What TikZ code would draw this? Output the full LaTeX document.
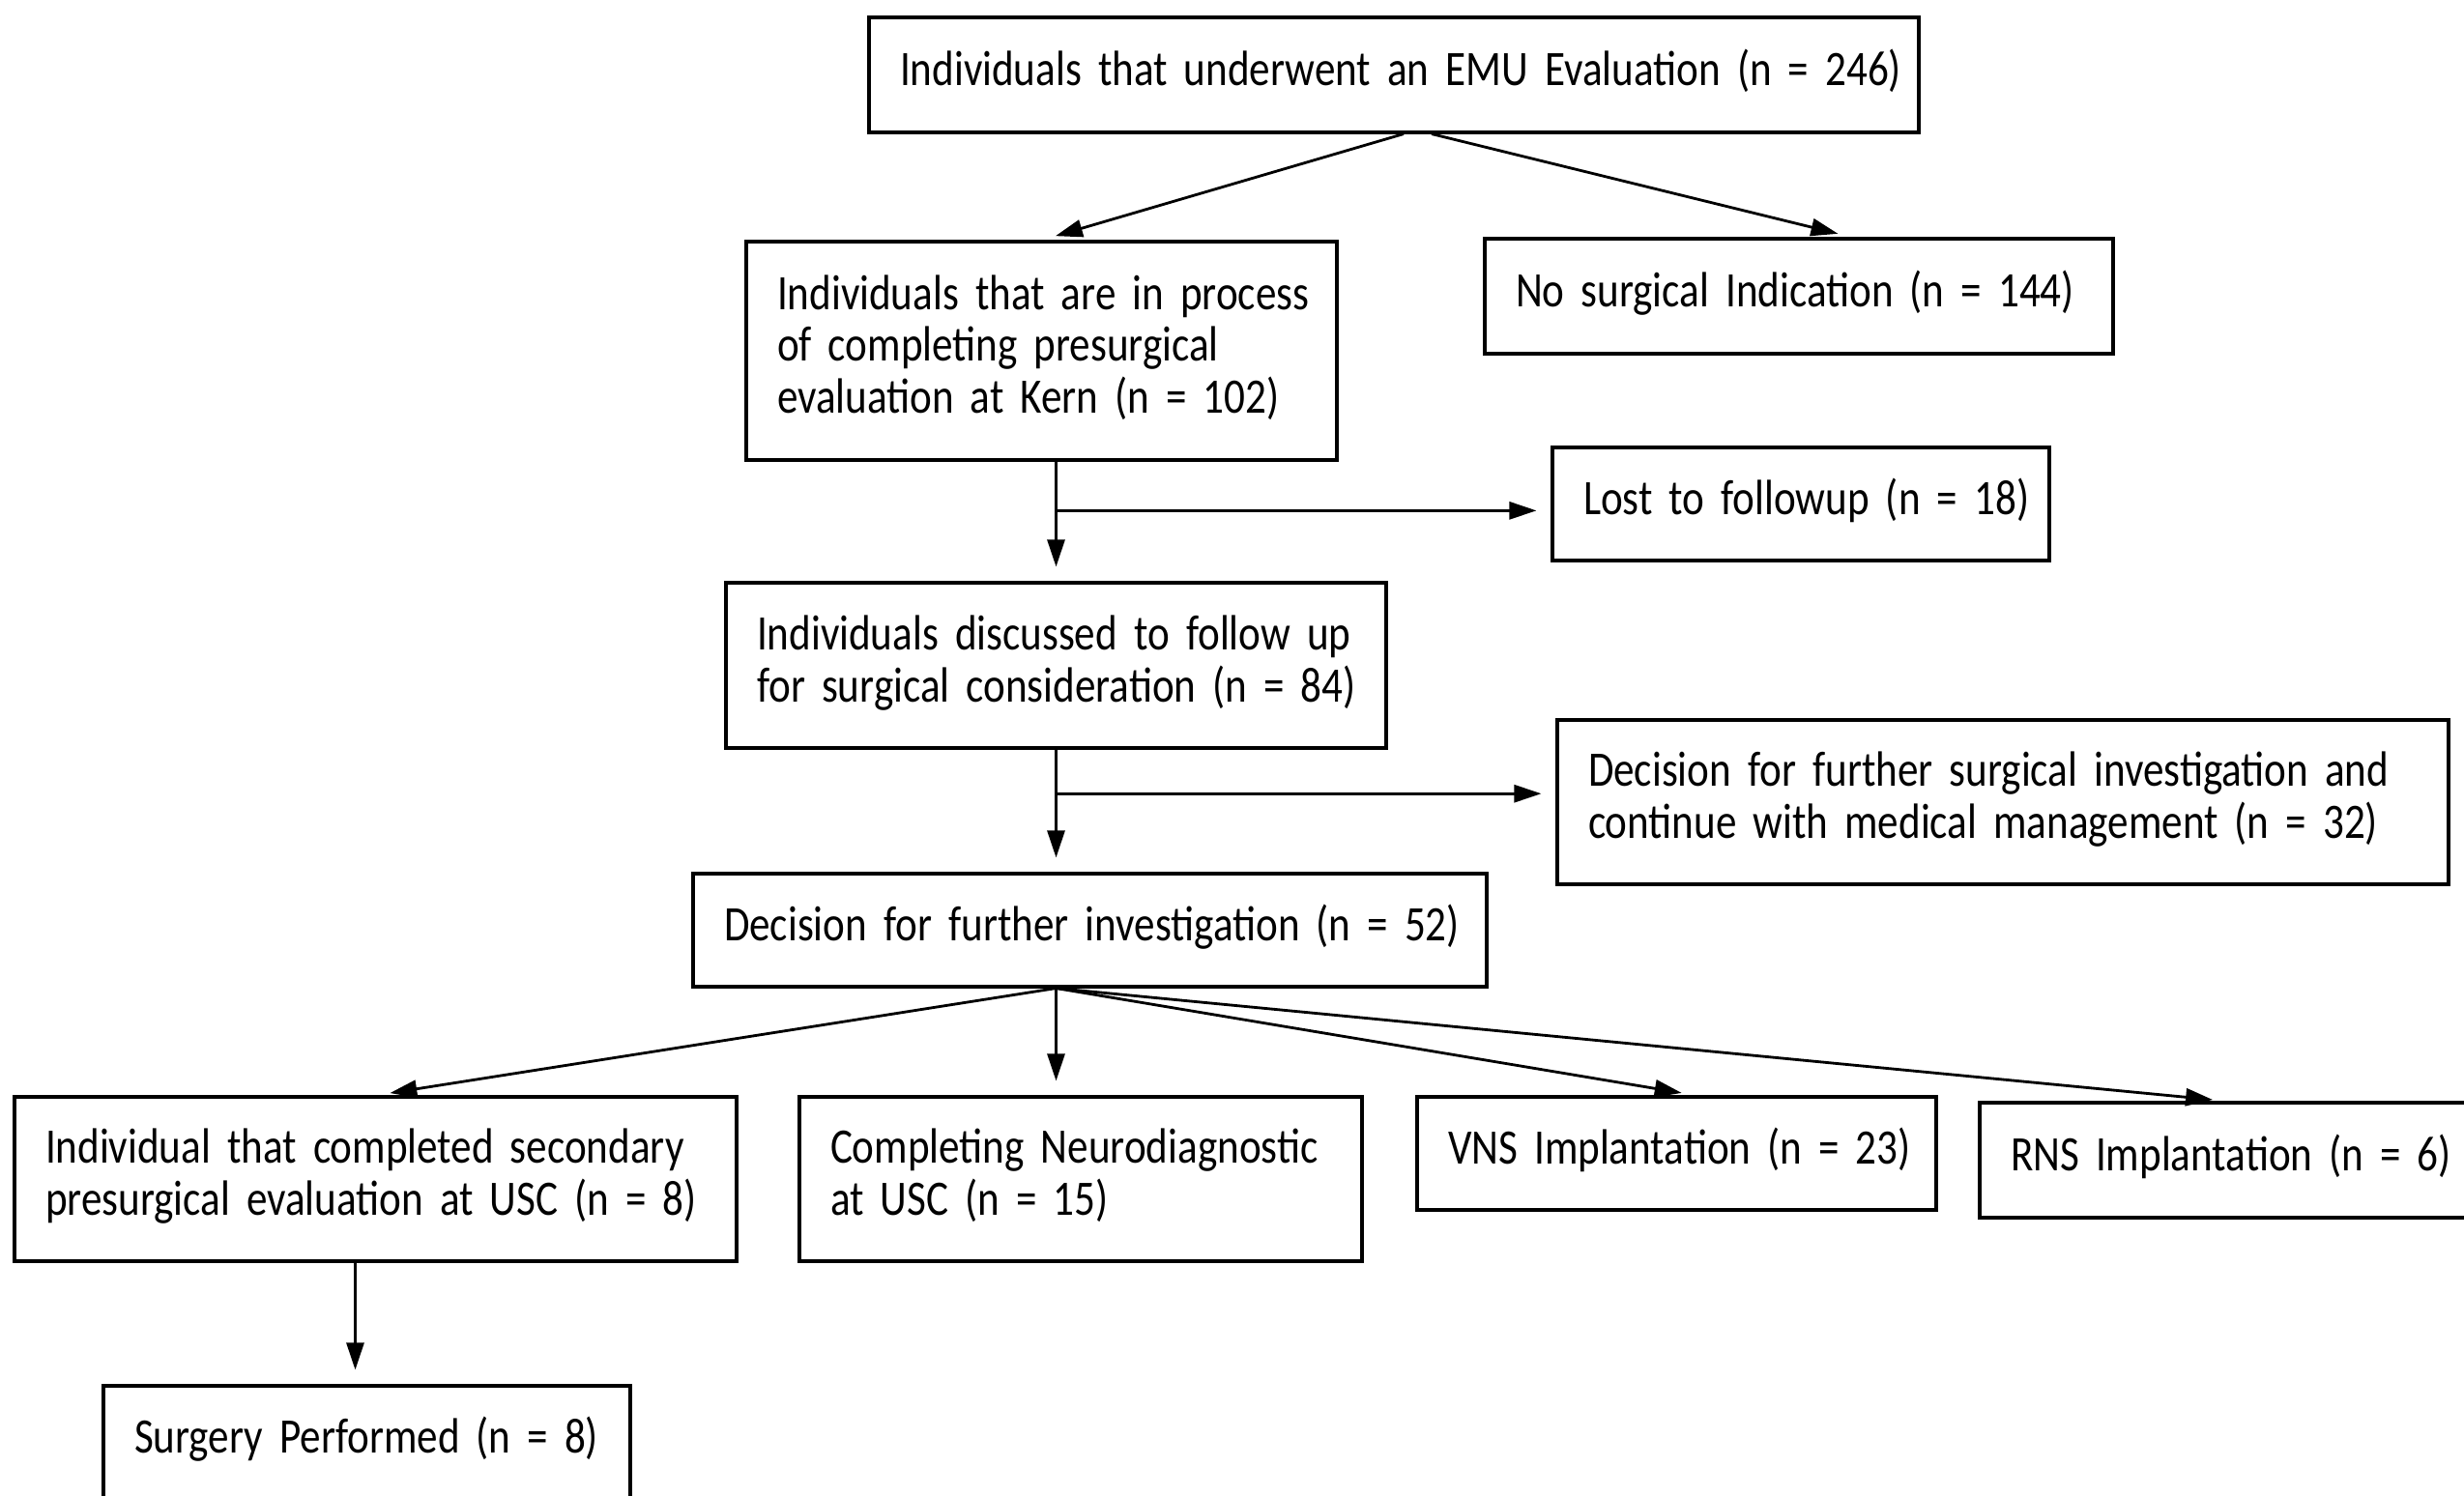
\documentclass[tikz,border=0pt]{standalone}
\usepackage{fontspec}
\setmainfont{Carlito}[FakeStretch=0.84, WordSpace=0.65]
\usepackage{tikz}
\usetikzlibrary{positioning,arrows.meta,calc}
\newcommand{\rows}[1]{\begin{tabular}{@{}l@{}}#1\end{tabular}}

\begin{document}
\begin{tikzpicture}[
    box/.style={draw, line width=0.9pt, inner xsep=0.32cm, inner ysep=0pt, align=left, font=\fontsize{14.6}{15.25}\selectfont},
    arr/.style={-{Triangle[length=0.28cm,width=0.18cm]}, line width=0.8pt, shorten >=0.15cm}
  ]
            \useasboundingbox (0,0) rectangle (25.49,-15.48);
            \clip (0,0) rectangle (25.49,-15.48);

            \node[box, text width=10.22cm, minimum height=1.19cm] (emu) at (14.42,-0.775) {\rows{Individuals that underwent an EMU Evaluation (n = 246)}};
            \node[box, text width=5.47cm, minimum height=2.26cm] (proc) at (10.775,-3.63) {\rows{Individuals that are in process\\ of completing presurgical\\ evaluation at Kern (n = 102)}};
            \node[box, text width=5.86cm, minimum height=1.19cm] (nosurg) at (18.61,-3.065) {\rows{No surgical Indication (n = 144)}};
            \node[box, text width=4.50cm, minimum height=1.17cm] (lost) at (18.63,-5.215) {\rows{Lost to followup (n = 18)}};
            \node[box, text width=6.19cm, minimum height=1.71cm] (disc) at (10.925,-6.885) {\rows{Individuals discussed to follow up\\ for surgical consideration (n = 84)}};
            \node[box, text width=8.58cm, minimum height=1.70cm] (cont) at (20.72,-8.30) {\rows{Decision for further surgical investigation and\\ continue with medical management (n = 32)}};
            \node[box, text width=7.57cm, minimum height=1.17cm] (inv) at (11.275,-9.625) {\rows{Decision for further investigation (n = 52)}};
            \node[box, text width=6.83cm, minimum height=1.70cm] (sec) at (3.885,-12.20) {\rows{Individual that completed secondary\\ presurgical evaluation at USC (n = 8)}};
            \node[box, text width=5.18cm, minimum height=1.70cm] (neuro) at (11.18,-12.20) {\rows{Completing Neurodiagnostic\\ at USC (n = 15)}};
            \node[box, text width=4.73cm, minimum height=1.17cm] (vns) at (17.345,-11.935) {\rows{VNS Implantation (n = 23)}};
            \node[box, text width=4.48cm, minimum height=1.19cm] (rns) at (23.04,-12.005) {\rows{RNS Implantation (n = 6)}};
            \node[box, text width=4.81cm, minimum height=1.18cm] (surg) at (3.795,-14.93) {\rows{Surgery Performed (n = 8)}};

            \draw[arr] ([xshift=0.1cm]emu.south) -- (proc.north);
            \draw[arr] ([xshift=0.39cm]emu.south) -- ([xshift=0.55cm]nosurg.north);

            \coordinate (b1) at ($(proc.south -| disc.north)!0.41!(disc.north)$);
            \draw[arr] (proc.south -| disc.north) -- (disc.north);
            \draw[arr] (b1) -- (b1 -| lost.west);

            \coordinate (b2) at ($(disc.south)!0.36!(disc.south |- inv.north)$);
            \draw[arr] (disc.south) -- (disc.south |- inv.north);
            \draw[arr] (b2) -- (b2 -| cont.west);

            \coordinate (hub) at (disc.south |- inv.south);
            \draw[arr] (hub) -- (sec.north);
            \draw[arr] (hub) -- (hub |- neuro.north);
            \draw[arr] (hub) -- ([xshift=0.2cm]vns.north);
            \draw[arr] (hub) -- (rns.north);

            \coordinate (s1) at ([xshift=-0.12cm]surg.north);
            \draw[arr] (sec.south -| s1) -- (s1);
        \end{tikzpicture}
\end{document}
